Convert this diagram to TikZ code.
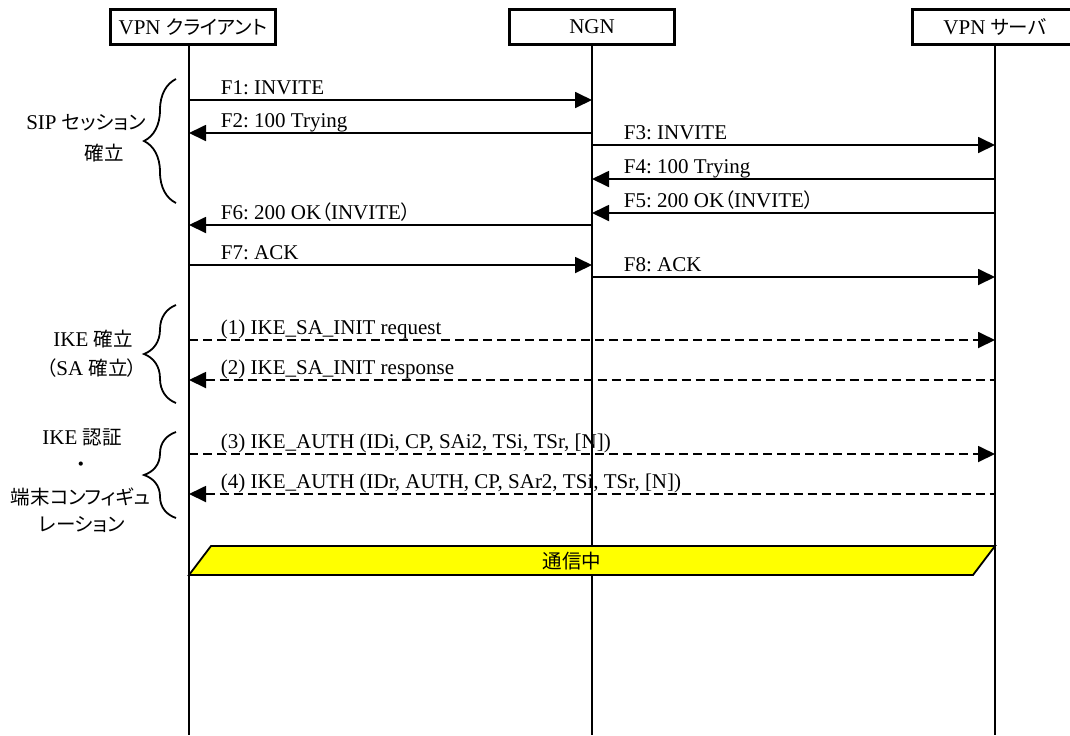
\documentclass[tikz,border=0pt]{standalone}
\usepackage{fontspec}
\setmainfont{Liberation Serif}
\newfontfamily\jp[RawFeature=+palt, Scale=0.93]{Noto Sans CJK JP}
\frenchspacing
\usetikzlibrary{arrows.meta,calc,decorations.pathreplacing}
\definecolor{talkfill}{RGB}{255,255,0}
\def\msg[#1](#2)(#3)#4#5#6{\draw[#1] (#2 |- 0,#4) -- (#3 |- 0,#4) node[lbl, pos=0] (#5) {#6};}

\begin{document}
\begin{tikzpicture}[x=0.5pt, y=-0.5pt,
		every node/.append style={font=\fontsize{10.5}{12}\selectfont},
		>={Triangle[length=8.5pt, width=8pt]},
		head/.style={draw, line width=1.2pt, minimum width=82.5pt, minimum height=17.5pt, inner sep=0pt},
		life/.style={line width=0.9pt},
		sig/.style={line width=0.9pt},
		ike/.style={line width=0.9pt, dash pattern=on 4.5pt off 2.5pt},
		lbl/.style={anchor=base west, inner sep=0pt, xshift=15.5pt, yshift=3pt},
		brc/.style={line width=0.9pt, decorate, decoration={brace, amplitude=16pt}},
		side/.style={inner sep=0pt}]
		%%%%% START %%%%%
		
		\clip (0, 0) rectangle (1070, 735);
		
		\node[head] (cli) at (193, 27) {VPN {\jp クライアント}};
		\node[head] (ngn) at (592, 27) {NGN};
		\node[head] (srv) at (995, 27) {VPN {\jp サーバ}};
		
		\coordinate (cliL) at (189, 735);
		\coordinate (ngnL) at (592, 735);
		\coordinate (srvL) at (995, 735);
		\draw[life] (cli.south -| cliL) -- (cliL);
		\draw[life] (ngn.south) -- (ngnL);
		\draw[life] (srv.south) -- (srvL);
		
		% SIP
		\msg[sig, ->](cliL)(ngnL){100}{f1}{F1: INVITE}
		\msg[sig, <-](cliL)(ngnL){133}{f2}{F2: 100 Trying}
		\msg[sig, ->](ngnL)(srvL){145}{f3}{F3: INVITE}
		\msg[sig, <-](ngnL)(srvL){179}{f4}{F4: 100 Trying}
		\msg[sig, <-](ngnL)(srvL){213}{f5}{F5: 200 OK{\jp （}INVITE{\jp ）}}
		\msg[sig, <-](cliL)(ngnL){225}{f6}{F6: 200 OK{\jp （}INVITE{\jp ）}}
		\msg[sig, ->](cliL)(ngnL){265}{f7}{F7: ACK}
		\msg[sig, ->](ngnL)(srvL){277}{f8}{F8: ACK}
		
		% IKE
		\msg[ike, ->](cliL)(srvL){340}{k1}{(1) IKE\_SA\_INIT request}
		\msg[ike, <-](cliL)(srvL){380}{k2}{(2) IKE\_SA\_INIT response}
		\msg[ike, ->](cliL)(srvL){454}{k3}{(3) IKE\_AUTH (IDi, CP, SAi2, TSi, TSr, [N])}
		\msg[ike, <-](cliL)(srvL){494}{k4}{(4) IKE\_AUTH (IDr, AUTH, CP, SAr2, TSi, TSr, [N])}
		
		\draw[brc] (176, 203) -- (176, 79);
		\draw[brc] (176, 403) -- (176, 305);
		\draw[brc] (176, 518) -- (176, 432);
		
		\node[side] (sip1) at (86, 123) {SIP {\jp セッション}};
		\node[side] (sip2) at (104, 153) {\jp 確立};
		\node[side] (ike1) at (93, 339) {IKE {\jp 確立}};
		\node[side] (ike2) at (92, 368) {{\jp （}SA {\jp 確立）}};
		\node[side] (auth1) at (82, 437) {IKE {\jp 認証}};
		\node[side] (auth2) at (81, 467) {\jp ・};
		\node[side] (auth3) at (81, 497) {\jp 端末コンフィギュ};
		\node[side] (auth4) at (82, 525) {\jp レーション};
		
		\draw[line width=0.9pt, fill=talkfill] (189, 575) -- (211, 546) -- (995, 546) -- (973, 575) -- cycle;
		\node[side] (talk) at (572, 561) {\jp 通信中};
		
		%%%%% END %%%%%
\end{tikzpicture}
\end{document}
